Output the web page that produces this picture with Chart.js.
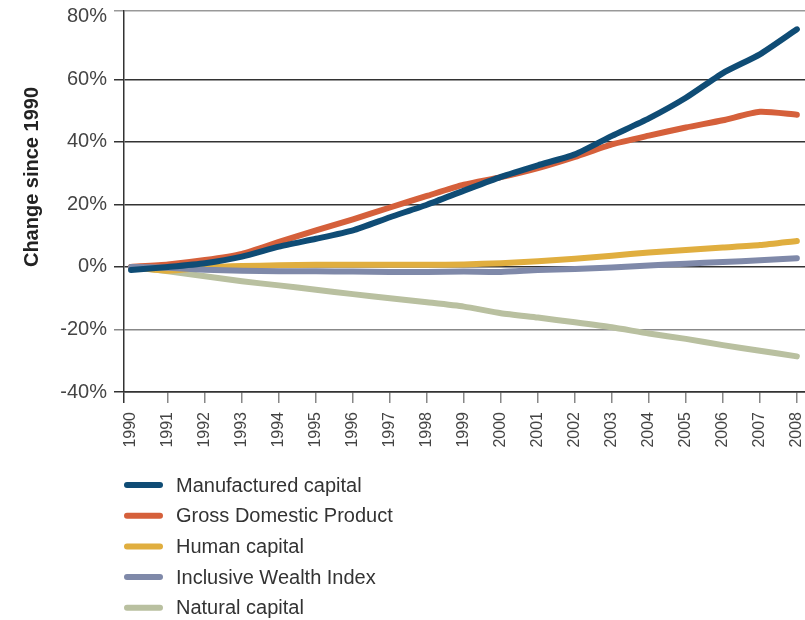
<!DOCTYPE html>
<html>
<head>
<meta charset="utf-8">
<script src="https://cdn.jsdelivr.net/npm/chart.js@4"></script>
<style>
html, body { margin: 0; padding: 0; background: #fff; }
</style>
</head>
<body>
<canvas id="wealth" width="805" height="620"></canvas>
<script>
var years = [1990, 1991, 1992, 1993, 1994, 1995, 1996, 1997, 1998, 1999, 2000, 2001, 2002, 2003, 2004, 2005, 2006, 2007, 2008];
var manufactured = [-1, 0, 1.2, 3.3, 6.5, 9, 11.7, 15.9, 19.9, 24.4, 28.8, 32.5, 36, 41.9, 47.5, 54.1, 62, 68, 76];
var gdp = [0, 0.8, 2.2, 4.2, 8, 11.7, 15.2, 19, 22.7, 26.3, 28.7, 31.6, 35.2, 39.2, 42, 44.6, 46.9, 49.6, 48.7];
var human = [0, -1.2, -0.2, 0.3, 0.5, 0.7, 0.7, 0.7, 0.7, 0.8, 1.2, 1.8, 2.6, 3.6, 4.6, 5.4, 6.2, 7, 8.3];
var iwi = [0, -0.3, -0.9, -1.2, -1.4, -1.4, -1.5, -1.6, -1.6, -1.5, -1.6, -1, -0.65, -0.15, 0.45, 1.05, 1.55, 2.1, 2.8];
var natural = [0, -1.4, -3, -4.6, -5.9, -7.3, -8.7, -10, -11.3, -12.7, -14.8, -16.2, -17.7, -19.3, -21.3, -23, -25, -26.8, -28.6];
var yTicks = [-40, -20, 0, 20, 40, 60, 80];
var yTitle = 'Change since 1990';

var FONT = '"Liberation Sans", Arial, sans-serif';

function pts(vals) {
    return years.map(function (yr, i) { return { x: yr, y: vals[i] }; });
}

// title on the y axis and the stacked legend below the plot
var extras = {
    id: 'extras',
    afterDraw: function (chart) {
        var c = chart.ctx;
        c.save();
        c.translate(32, 177);
        c.rotate(-Math.PI / 2);
        c.font = 'bold 20px ' + FONT;
        c.fillStyle = '#222';
        c.textAlign = 'center';
        c.textBaseline = 'middle';
        c.fillText(yTitle, 0, 0);
        c.restore();

        c.save();
        chart.data.datasets.forEach(function (ds, i) {
            var y = 485 + i * 30.7;
            c.strokeStyle = ds.borderColor;
            c.lineWidth = 6;
            c.lineCap = 'round';
            c.beginPath();
            c.moveTo(127, y);
            c.lineTo(160, y);
            c.stroke();
            c.fillStyle = '#333';
            c.font = '20px ' + FONT;
            c.textAlign = 'left';
            c.textBaseline = 'middle';
            c.fillText(ds.label, 176, y + 1);
        });
        c.restore();
    }
};

function line(label, vals, color, order) {
    return {
        label: label,
        data: pts(vals),
        borderColor: color,
        backgroundColor: color,
        borderWidth: 6,
        borderCapStyle: 'round',
        borderJoinStyle: 'round',
        pointRadius: 0,
        tension: 0.2,
        order: order
    };
}

var ctx = document.getElementById('wealth').getContext('2d');
var chart = new Chart(ctx, {
    type: 'line',
    data: {
        datasets: [
            line('Manufactured capital', manufactured, '#0f4c75', 0),
            line('Gross Domestic Product', gdp, '#d5603b', 2),
            line('Human capital', human, '#e0ae3f', 3),
            line('Inclusive Wealth Index', iwi, '#7f89a9', 1),
            line('Natural capital', natural, '#b9c0a0', 4)
        ]
    },
    options: {
        responsive: false,
        devicePixelRatio: 1,
        animation: false,
        layout: { padding: { left: 60, right: 0, top: 11, bottom: 172 } },
        plugins: {
            legend: { display: false },
            tooltip: { enabled: false }
        },
        scales: {
            x: {
                type: 'linear',
                min: 1989.81,
                max: 2008.22,
                afterBuildTicks: function (s) {
                    s.ticks = [{ value: s.min }].concat(years.map(function (y) { return { value: y }; }));
                },
                afterFit: function (s) { s.height = 56; s.paddingLeft = 0; s.paddingRight = 0; },
                border: { color: '#333', width: 1.5 },
                grid: {
                    drawOnChartArea: false,
                    tickLength: 11,
                    lineWidth: 1.5,
                    color: function (c) {
                        if (!c.tick) return '#888';
                        if (c.tick.value === 1990) return 'rgba(0,0,0,0)';
                        return c.index === 0 ? '#333' : '#888';
                    }
                },
                ticks: {
                    autoSkip: false,
                    minRotation: 90,
                    maxRotation: 90,
                    padding: 9,
                    color: '#444',
                    font: { family: FONT, size: 16 },
                    callback: function (v) { return Number.isInteger(v) ? String(v) : ''; }
                }
            },
            y: {
                min: -40,
                max: 81.85,
                afterBuildTicks: function (s) {
                    s.ticks = yTicks.map(function (v) { return { value: v }; }).concat([{ value: s.max }]);
                },
                afterFit: function (s) { s.width = 64; s.paddingTop = 0; s.paddingBottom = 0; },
                border: { color: '#333', width: 1.5 },
                grid: {
                    tickLength: 10,
                    lineWidth: 1.5,
                    color: function (c) {
                        if (!c.tick) return '#333';
                        var v = c.tick.value;
                        if (v === 80) return 'rgba(0,0,0,0)';
                        if (v === -20) return '#888';
                        if (v > 80) return '#999';
                        return '#333';
                    }
                },
                ticks: {
                    padding: 7,
                    color: '#444',
                    font: { family: FONT, size: 20 },
                    callback: function (v) { return yTicks.indexOf(v) >= 0 ? v + '%' : ''; }
                }
            }
        }
    },
    plugins: [extras]
});
</script>
</body>
</html>
